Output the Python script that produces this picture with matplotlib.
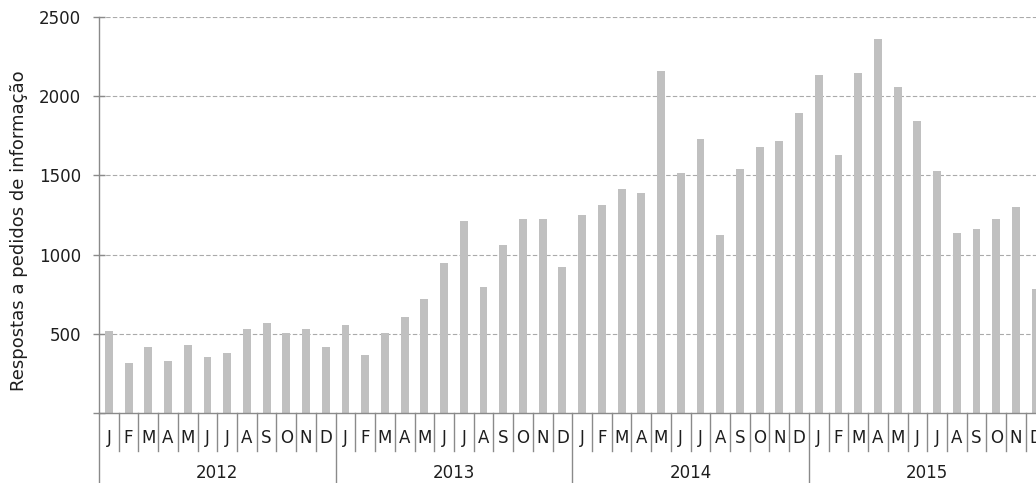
import matplotlib
matplotlib.use("Agg")
import matplotlib.pyplot as plt
import matplotlib.transforms as mtransforms

years = ["2012", "2013", "2014", "2015"]
months = ["J", "F", "M", "A", "M", "J", "J", "A", "S", "O", "N", "D"]
values_2012 = [520, 319, 420, 331, 432, 357, 382, 533, 571, 508, 533, 420]
values_2013 = [558, 369, 508, 609, 722, 949, 1213, 798, 1062, 1226, 1226, 924]
values_2014 = [1251, 1314, 1415, 1390, 2158, 1516, 1730, 1125, 1541, 1680, 1717, 1894]
values_2015 = [2133, 1629, 2146, 2360, 2058, 1843, 1528, 1138, 1163, 1226, 1302, 785]
y_ticks = [0, 500, 1000, 1500, 2000, 2500]
y_tick_labels = ["", "500", "1000", "1500", "2000", "2500"]
y_label = "Respostas a pedidos de informação"

values = values_2012 + values_2013 + values_2014 + values_2015
labels = months * len(years)
n = len(values)

plt.rcParams["font.family"] = ["DejaVu Sans"]
TXT = "#1e1e1e"
LINE = "#8a8a8a"
FS = 12

W, H = 1036, 483
fig = plt.figure(figsize=(W / 100, H / 100), dpi=100)
left_px, right_px = 99, 99 + 48 * 19.72
top_px, bot_px = 16.7, 413.3
axw = right_px - left_px
axh = bot_px - top_px
ax = fig.add_axes([left_px / W, (H - bot_px) / H, axw / W, axh / H])

x = list(range(n))
ax.bar(x, values, width=0.4, color="#c0c0c0", zorder=2)
ax.set_xlim(-0.5, n - 0.5)
ax.set_ylim(0, 2500)
ax.set_yticks(y_ticks)
ax.set_yticklabels(y_tick_labels, fontsize=FS, color=TXT)
ax.tick_params(axis="y", direction="inout", length=8, width=1.0, color=LINE, pad=9)
ax.set_xticks([])
for v in y_ticks[1:]:
    ax.axhline(v, color="#aaaaaa", linestyle=(0, (4, 2)), linewidth=0.8, zorder=1)

for s in ["top", "right"]:
    ax.spines[s].set_visible(False)
ax.spines["left"].set_color(LINE)
ax.spines["bottom"].set_color(LINE)
ax.spines["left"].set_linewidth(1.0)
ax.spines["bottom"].set_linewidth(1.0)

ax.set_ylabel(y_label, fontsize=13, color=TXT)
ax.yaxis.set_label_coords(-(99 - 28) / axw, 0.5 - 15.5 / axh)

trans = mtransforms.blended_transform_factory(ax.transData, ax.transAxes)
month_sep = -(451 - bot_px) / axh
year_sep = -(H - bot_px) / axh
for i in range(n + 1):
    xb = i - 0.5
    yb = year_sep if i % 12 == 0 else month_sep
    ax.plot([xb, xb], [0, yb], transform=trans, color=LINE, lw=1.0, clip_on=False)
for i, lab in enumerate(labels):
    ax.text(i, -(438 - bot_px) / axh, lab, transform=trans, ha="center", va="center",
            fontsize=FS, color=TXT, clip_on=False)
for k, yr in enumerate(years):
    ax.text(12 * k + 5.5, -(473 - bot_px) / axh, yr, transform=trans, ha="center", va="center",
            fontsize=FS, color=TXT, clip_on=False)

fig.savefig("out.png", dpi=100)
